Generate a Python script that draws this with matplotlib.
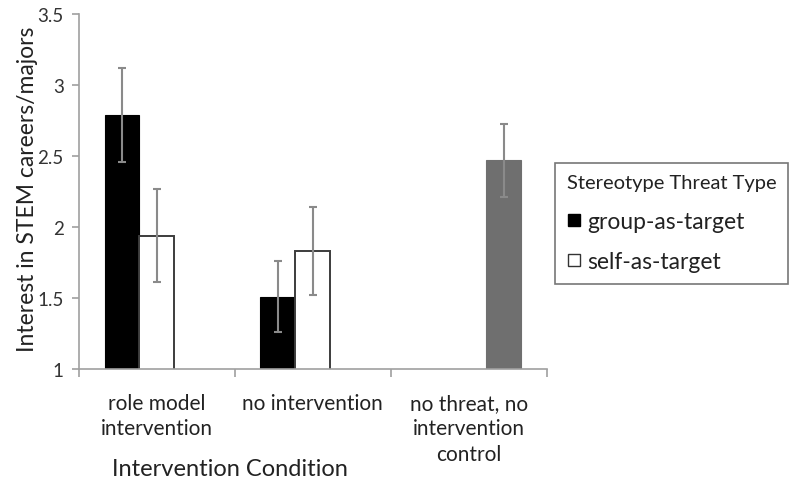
import numpy as np
import matplotlib
matplotlib.use("Agg")
import matplotlib.pyplot as plt
from matplotlib.lines import Line2D
from matplotlib.ticker import FixedLocator, NullFormatter

plt.rcParams['font.family'] = ['Lato', 'DejaVu Sans']

categories = ["role model\nintervention", "no intervention", "no threat, no\nintervention\ncontrol"]
group_vals = [2.79, 1.51, np.nan]
group_err = [0.33, 0.25, 0.0]
self_vals = [1.94, 1.83, np.nan]
self_err = [0.33, 0.31, 0.0]
control_vals = [np.nan, np.nan, 2.47]
control_err = [0.0, 0.0, 0.255]
series_names = ["group-as-target", "self-as-target"]
legend_title = "Stereotype Threat Type"
yticks = [1, 1.5, 2, 2.5, 3, 3.5]
ytick_labels = ["1", "1.5", "2", "2.5", "3", "3.5"]

fig = plt.figure(figsize=(7.9, 4.85), dpi=100)
ax = fig.add_axes([0.1, 0.237, 0.592, 0.732])

x = np.arange(len(categories))
w = 0.224
ecol = "#8a8a8a"
ekw = dict(ecolor=ecol, elinewidth=1.5, capsize=3, capthick=1.5)

ax.bar(x - w, group_vals, w, color="black", edgecolor="black", linewidth=0.8,
       yerr=group_err, error_kw=ekw, zorder=2)
ax.bar(x, self_vals, w, color="white", edgecolor="#3c3c3c", linewidth=1.4,
       yerr=self_err, error_kw=ekw, zorder=2)
ax.bar(x + w, control_vals, w, color="#6f6f6f", edgecolor="#6f6f6f", linewidth=0.8,
       yerr=control_err, error_kw=ekw, zorder=2)

ax.set_xlim(-0.5, 2.5)
ax.set_ylim(1, 3.5)
ax.set_yticks(yticks)
ax.set_yticklabels(ytick_labels, fontsize=13.5, color="#333333")

ax.xaxis.set_major_locator(FixedLocator([-0.5, 0.5, 1.5, 2.5]))
ax.xaxis.set_major_formatter(NullFormatter())
ax.xaxis.set_minor_locator(FixedLocator(list(x)))
ax.set_xticklabels(categories, minor=True, fontsize=15, color="#222222", linespacing=1.36)
ax.tick_params(axis='x', which='minor', length=0, pad=17)
ax.tick_params(axis='x', which='major', length=6, color="#a0a0a0", width=1.2, direction='out')
ax.tick_params(axis='y', length=5, color="#a0a0a0", width=1.2, direction='out', pad=6)

for s in ["top", "right"]:
    ax.spines[s].set_visible(False)
for s in ["left", "bottom"]:
    ax.spines[s].set_color("#a0a0a0")
    ax.spines[s].set_linewidth(1.2)

ax.set_ylabel("Interest in STEM careers/majors", fontsize=16.5, color="#222222")
ax.yaxis.set_label_coords(-0.111, 0.51)
ax.yaxis.label.set_va('center')
ax.set_xlabel("Intervention Condition", fontsize=17, color="#222222")
ax.xaxis.set_label_coords(0.323, -0.279)
ax.xaxis.label.set_va('center')

handles = [
    Line2D([0], [0], marker='s', linestyle='none', markersize=9,
           markerfacecolor='black', markeredgecolor='black'),
    Line2D([0], [0], marker='s', linestyle='none', markersize=9,
           markerfacecolor='white', markeredgecolor='#333333', markeredgewidth=1.0),
]
leg = fig.legend(handles, series_names, title=legend_title, loc='upper left',
                 bbox_to_anchor=(0.703, 0.662), fontsize=16.5, title_fontsize=14.5,
                 frameon=True, fancybox=False, edgecolor="#555555",
                 handlelength=0.6, handletextpad=0.3, labelspacing=0.85,
                 borderpad=0.5, borderaxespad=0, alignment='left')
leg.get_frame().set_linewidth(1.2)
for t in leg.get_texts():
    t.set_color("#222222")
leg.get_title().set_color("#222222")

fig.savefig("out.png", dpi=100)
